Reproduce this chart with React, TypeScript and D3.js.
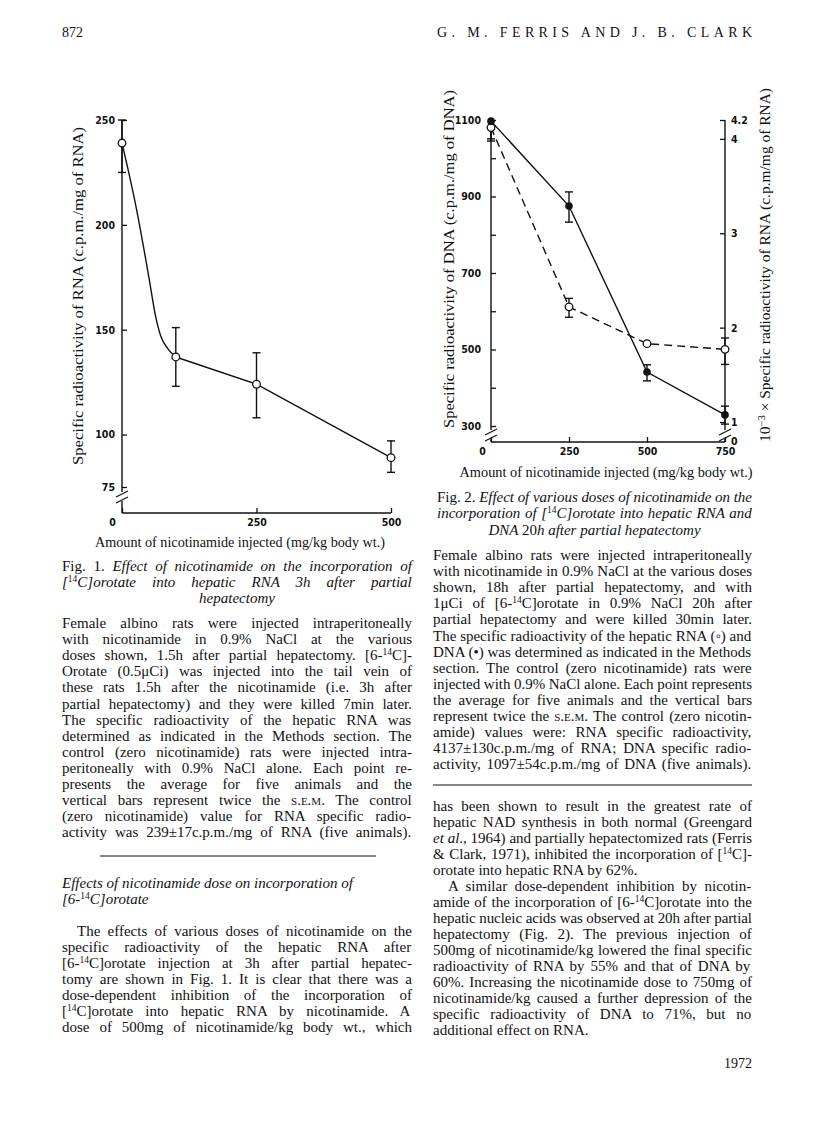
import { useEffect, useRef } from 'react'
import * as d3 from 'd3'

// ---- Fig. 1: RNA specific radioactivity vs nicotinamide dose ----
const fig1Dose = [0, 100, 250, 500]
const fig1Rna = [239, 137, 124, 89]
const fig1Low = [225, 123, 108, 82]
const fig1High = [250, 151, 139, 97]
// the hand-drawn curve between 0 and 100 mg/kg
const fig1CurveDose = [0, 25, 50, 62, 72, 85, 100]
const fig1CurveRna = [239, 210, 175, 157, 147, 141, 137]
const fig1YTicks = [75, 100, 150, 200, 250]
const fig1XTicks = [0, 250, 500]

// ---- Fig. 2: DNA (filled, left axis) and RNA (open, right axis) ----
const fig2Dose = [0, 250, 500, 750]
const fig2Dna = [1097, 875, 441, 329]
const fig2DnaLow = [1045, 833, 418, 305]
const fig2DnaHigh = [1097, 912, 460, 352]
const fig2Rna = [4.12, 2.22, 1.83, 1.77]
const fig2RnaLow = [4.0, 2.11, 1.83, 1.61]
const fig2RnaHigh = [4.12, 2.31, 1.83, 1.89]
const fig2DnaTicks = [300, 400, 500, 600, 700, 800, 900, 1000, 1100]
const fig2DnaLabels = [300, 500, 700, 900, 1100]
const fig2RnaTicks = [1, 2, 3, 4, 4.2]
const fig2XTicks = [0, 250, 500, 750]

// ---- page text ----
const fig1Caption = [
  'Fig. 1. <i>Effect of nicotinamide on the incorporation of</i>',
  '<i>[</i><sup>14</sup><i>C]orotate into hepatic RNA 3h after partial</i>',
  '<i>hepatectomy</i>',
]
const fig1Legend = [
  'Female albino rats were injected intraperitoneally',
  'with nicotinamide in 0.9% NaCl at the various',
  'doses shown, 1.5h after partial hepatectomy. [6-<sup>14</sup>C]-',
  'Orotate (0.5\u03bcCi) was injected into the tail vein of',
  'these rats 1.5h after the nicotinamide (i.e. 3h after',
  'partial hepatectomy) and they were killed 7min later.',
  'The specific radioactivity of the hepatic RNA was',
  'determined as indicated in the Methods section. The',
  'control (zero nicotinamide) rats were injected intra-',
  'peritoneally with 0.9% NaCl alone. Each point re-',
  'presents the average for five animals and the',
  'vertical bars represent twice the <sc>s.e.m.</sc> The control',
  '(zero nicotinamide) value for RNA specific radio-',
  'activity was 239\u00b117c.p.m./mg of RNA (five animals).',
]
const leftHeading = [
  '<i>Effects of nicotinamide dose on incorporation of</i>',
  '<i>[6-</i><sup>14</sup><i>C]orotate</i>',
]
const leftBody = [
  'The effects of various doses of nicotinamide on the',
  'specific radioactivity of the hepatic RNA after',
  '[6-<sup>14</sup>C]orotate injection at 3h after partial hepatec-',
  'tomy are shown in Fig. 1. It is clear that there was a',
  'dose-dependent inhibition of the incorporation of',
  '[<sup>14</sup>C]orotate into hepatic RNA by nicotinamide. A',
  'dose of 500mg of nicotinamide/kg body wt., which',
]
const fig2Caption = [
  'Fig. 2. <i>Effect of various doses of nicotinamide on the</i>',
  '<i>incorporation of [</i><sup>14</sup><i>C]orotate into hepatic RNA and</i>',
  '<i>DNA </i>20<i>h after partial hepatectomy</i>',
]
const fig2Legend = [
  'Female albino rats were injected intraperitoneally',
  'with nicotinamide in 0.9% NaCl at the various doses',
  'shown, 18h after partial hepatectomy, and with',
  '1\u03bcCi of [6-<sup>14</sup>C]orotate in 0.9% NaCl 20h after',
  'partial hepatectomy and were killed 30min later.',
  'The specific radioactivity of the hepatic RNA (\u25e6) and',
  'DNA (\u2022) was determined as indicated in the Methods',
  'section. The control (zero nicotinamide) rats were',
  'injected with 0.9% NaCl alone. Each point represents',
  'the average for five animals and the vertical bars',
  'represent twice the <sc>s.e.m.</sc> The control (zero nicotin-',
  'amide) values were: RNA specific radioactivity,',
  '4137\u00b1130c.p.m./mg of RNA; DNA specific radio-',
  'activity, 1097\u00b154c.p.m./mg of DNA (five animals).',
]
const rightBody = [
  'has been shown to result in the greatest rate of',
  'hepatic NAD synthesis in both normal (Greengard',
  '<i>et al</i>., 1964) and partially hepatectomized rats (Ferris',
  '& Clark, 1971), inhibited the incorporation of [<sup>14</sup>C]-',
  'orotate into hepatic RNA by 62%.',
  'A similar dose-dependent inhibition by nicotin-',
  'amide of the incorporation of [6-<sup>14</sup>C]orotate into the',
  'hepatic nucleic acids was observed at 20h after partial',
  'hepatectomy (Fig. 2). The previous injection of',
  '500mg of nicotinamide/kg lowered the final specific',
  'radioactivity of RNA by 55% and that of DNA by',
  '60%. Increasing the nicotinamide dose to 750mg of',
  'nicotinamide/kg caused a further depression of the',
  'specific radioactivity of DNA to 71%, but no',
  'additional effect on RNA.',
]

const serifName = '"Liberation Serif"'
const serif = '"Liberation Serif", "DejaVu Serif", serif'
const tickFont = '"Liberation Sans Narrow", "DejaVu Sans Condensed", sans-serif'
const bodySize = 15
const supSize = 9.5

type Seg = { t: string; italic: boolean; sup: boolean; sc: boolean }

function segments(markup: string): Seg[] {
  const parts = markup.split(/(<\/?(?:i|sup|sc)>)/)
  let italic = false, sup = false, sc = false
  const out: Seg[] = []
  parts.forEach(p => {
    if (p === '<i>') italic = true
    else if (p === '</i>') italic = false
    else if (p === '<sup>') sup = true
    else if (p === '</sup>') sup = false
    else if (p === '<sc>') sc = true
    else if (p === '</sc>') sc = false
    else if (p) out.push({ t: p, italic, sup, sc })
  })
  return out
}

let ctx: CanvasRenderingContext2D | null = null
function measure(segs: Seg[], size: number) {
  if (!ctx) ctx = document.createElement('canvas').getContext('2d')
  if (!ctx) return 0
  let w = 0
  segs.forEach(s => {
    ctx!.font = `${s.italic ? 'italic ' : ''}${s.sc ? 'small-caps ' : ''}${s.sup ? supSize : size}px ${serifName}`
    w += ctx!.measureText(s.t).width
  })
  return w
}

function renderSegs(segs: Seg[]) {
  let shifted = false
  return segs.map((s, k) => {
    let dy: number | undefined
    if (s.sup && !shifted) { dy = -5; shifted = true }
    if (!s.sup && shifted) { dy = 5; shifted = false }
    return (
      <tspan key={k} dy={dy}
        fontStyle={s.italic ? 'italic' : undefined}
        fontSize={s.sup ? supSize : undefined}
        fontVariant={s.sc ? 'small-caps' : undefined}>{s.t}</tspan>
    )
  })
}

type BlockOpts = { x: number; w: number; y0: number; step: number; indent?: number[]; ragged?: number[]; center?: number[] }

function Block({ lines, o }: { lines: string[]; o: BlockOpts }) {
  return (
    <g>
      {lines.map((l, i) => {
        const y = o.y0 + i * o.step
        const segs = segments(l)
        if (o.center && o.center.includes(i)) {
          return <text key={i} x={o.x + o.w / 2} y={y} textAnchor="middle">{renderSegs(segs)}</text>
        }
        const ind = o.indent && o.indent.includes(i) ? 15 : 0
        const just = !(o.ragged && o.ragged.includes(i))
        const target = o.w - ind
        if (!just) return <text key={i} x={o.x + ind} y={y}>{renderSegs(segs)}</text>
        const natural = measure(segs, bodySize)
        const spaces = segs.filter(s => !s.sup).reduce((n, s) => n + (s.t.match(/ /g) || []).length, 0)
        const extra = target - natural
        if (extra >= 0 && spaces > 0) {
          return (
            <text key={i} x={o.x + ind} y={y} style={{ wordSpacing: `${extra / spaces}px` }}>{renderSegs(segs)}</text>
          )
        }
        return (
          <text key={i} x={o.x + ind} y={y} textLength={target} lengthAdjust="spacing">{renderSegs(segs)}</text>
        )
      })}
    </g>
  )
}

function drawErrorBars(g: any, xs: number[], vals: number[], lows: number[], highs: number[], x: any, y: any) {
  xs.forEach((d, i) => {
    const cx = x(d)
    if (lows[i] === highs[i]) return
    g.append('line').attr('x1', cx).attr('x2', cx).attr('y1', y(lows[i])).attr('y2', y(highs[i]))
      .attr('stroke', '#111').attr('stroke-width', 1.4)
    ;[lows[i], highs[i]].forEach(v => {
      if (v === vals[i]) return
      g.append('line').attr('x1', cx - 4).attr('x2', cx + 4).attr('y1', y(v)).attr('y2', y(v))
        .attr('stroke', '#111').attr('stroke-width', 1.4)
    })
  })
}

function styleAxis(a: any) {
  a.select('.domain').remove()
  a.attr('font-family', tickFont).attr('font-size', 10.5).attr('font-weight', 'bold')
  a.selectAll('line').attr('stroke', '#111').attr('stroke-width', 1.3)
  a.selectAll('text').attr('fill', '#111')
}

function axisBreak(g: any, x: number, yb: number) {
  ;[0, 6].forEach(off => {
    g.append('line').attr('x1', x - 6).attr('x2', x + 6)
      .attr('y1', yb + off + 3).attr('y2', yb + off - 3)
      .attr('stroke', '#111').attr('stroke-width', 1.2)
  })
}

export default function App() {
  const svgRef = useRef<SVGSVGElement>(null)

  useEffect(() => {
    if (!svgRef.current) return
    const svg = d3.select(svgRef.current)
    svg.selectAll('g.chart').remove()

    const axisLine = (g: any, xa: number, ya: number, xb: number, yb: number) =>
      g.append('line').attr('x1', xa).attr('y1', ya).attr('x2', xb).attr('y2', yb)
        .attr('stroke', '#111').attr('stroke-width', 1.4)

    // ---------- Fig. 1 ----------
    const g1 = svg.append('g').attr('class', 'chart')
    const x1 = d3.scaleLinear().domain([0, 500]).range([122, 391])
    const y1 = d3.scaleLinear().domain([75, 250]).range([487, 120])
    const base1 = 513

    const ay1 = g1.append('g').attr('transform', `translate(${x1(0)},0)`)
      .call(d3.axisLeft(y1).tickValues(fig1YTicks).tickSize(-5).tickPadding(7).tickFormat(d3.format('d')))
    styleAxis(ay1)
    const ax1 = g1.append('g').attr('transform', `translate(0,${base1})`)
      .call(d3.axisBottom(x1).tickValues(fig1XTicks).tickSize(-5).tickPadding(6).tickFormat(d3.format('d')))
    styleAxis(ax1)
    ax1.selectAll('text').filter((d: any) => d === 0).attr('dx', -10)

    axisLine(g1, x1(0), y1(250), x1(0), 492)
    axisLine(g1, x1(0), 501, x1(0), base1)
    axisLine(g1, x1(0), base1, x1(500), base1)
    axisBreak(g1, x1(0), 494)

    const curve1 = d3.line<number>().x(d => x1(d)).y((_, i) => y1(fig1CurveRna[i])).curve(d3.curveMonotoneX)
    g1.append('path').attr('d', curve1(fig1CurveDose)).attr('fill', 'none').attr('stroke', '#111').attr('stroke-width', 1.4)
    const straight1 = d3.line<number>().x(d => x1(d)).y((_, i) => y1(fig1Rna.slice(1)[i]))
    g1.append('path').attr('d', straight1(fig1Dose.slice(1))).attr('fill', 'none').attr('stroke', '#111').attr('stroke-width', 1.4)

    drawErrorBars(g1, fig1Dose, fig1Rna, fig1Low, fig1High, x1, y1)
    g1.selectAll('circle.p').data(fig1Dose).join('circle')
      .attr('cx', d => x1(d)).attr('cy', (_, i) => y1(fig1Rna[i])).attr('r', 3.8)
      .attr('fill', '#fff').attr('stroke', '#111').attr('stroke-width', 1.3)

    // ---------- Fig. 2 ----------
    const g2 = svg.append('g').attr('class', 'chart')
    const x2 = d3.scaleLinear().domain([0, 750]).range([491, 725])
    const y2 = d3.scaleLinear().domain([300, 1100]).range([426, 120])
    const y2r = d3.scaleLinear().domain([1, 4.2]).range([422, 120])
    const base2 = 442

    const ay2 = g2.append('g').attr('transform', `translate(${x2(0)},0)`)
      .call(d3.axisLeft(y2).tickValues(fig2DnaTicks).tickSize(-5).tickPadding(10)
        .tickFormat((d: any) => (fig2DnaLabels.includes(d) ? String(d) : '')))
    styleAxis(ay2)
    const ar2 = g2.append('g').attr('transform', `translate(${x2(750)},0)`)
      .call(d3.axisRight(y2r).tickValues(fig2RnaTicks).tickSize(-5).tickPadding(6).tickFormat((d: any) => String(d)))
    styleAxis(ar2)
    ar2.append('text').attr('x', 6).attr('y', base2).attr('dy', '0.32em').attr('fill', '#111').text('0')
    const ax2 = g2.append('g').attr('transform', `translate(0,${base2})`)
      .call(d3.axisBottom(x2).tickValues(fig2XTicks).tickSize(-5).tickPadding(6).tickFormat(d3.format('d')))
    styleAxis(ax2)
    ax2.selectAll('text').filter((d: any) => d === 0).attr('dx', -9)

    axisLine(g2, x2(0), y2(1100), x2(0), 430)
    axisLine(g2, x2(0), 439, x2(0), base2)
    axisBreak(g2, x2(0), 432)
    axisLine(g2, x2(750), y2r(4.2), x2(750), 430)
    axisLine(g2, x2(750), 439, x2(750), base2)
    axisBreak(g2, x2(750), 432)
    axisLine(g2, x2(0), base2, x2(750), base2)

    const dnaLine = d3.line<number>().x(d => x2(d)).y((_, i) => y2(fig2Dna[i]))
    g2.append('path').attr('d', dnaLine(fig2Dose)).attr('fill', 'none').attr('stroke', '#111').attr('stroke-width', 1.4)
    const rnaLine = d3.line<number>().x(d => x2(d)).y((_, i) => y2r(fig2Rna[i]))
    g2.append('path').attr('d', rnaLine(fig2Dose)).attr('fill', 'none').attr('stroke', '#111')
      .attr('stroke-width', 1.4).attr('stroke-dasharray', '8,5')

    drawErrorBars(g2, fig2Dose, fig2Dna, fig2DnaLow, fig2DnaHigh, x2, y2)
    drawErrorBars(g2, fig2Dose, fig2Rna, fig2RnaLow, fig2RnaHigh, x2, y2r)

    g2.selectAll('circle.rna').data(fig2Dose).join('circle').attr('class', 'rna')
      .attr('cx', d => x2(d)).attr('cy', (_, i) => y2r(fig2Rna[i])).attr('r', 3.8)
      .attr('fill', '#fff').attr('stroke', '#111').attr('stroke-width', 1.3)
    g2.selectAll('circle.dna').data(fig2Dose).join('circle').attr('class', 'dna')
      .attr('cx', d => x2(d)).attr('cy', (_, i) => y2(fig2Dna[i])).attr('r', 3.8)
      .attr('fill', '#111')
  }, [])

  return (
    <svg ref={svgRef} width={816} height={1136}
      style={{ position: 'absolute', left: 0, top: 0, background: '#fff' }}
      fontFamily={serif} fontSize={bodySize} fill="#111">
      {/* running head */}
      <text x={62} y={37} fontSize={14}>872</text>
      <text x={437} y={37} fontSize={14} textLength={315} lengthAdjust="spacing">G. M. FERRIS AND J. B. CLARK</text>

      {/* axis titles */}
      <text transform="translate(83,296) rotate(-90)" textAnchor="middle" fontSize={14.5} textLength={338} lengthAdjust="spacingAndGlyphs">
        Specific radioactivity of RNA (c.p.m./mg of RNA)
      </text>
      <text x={240} y={547} textAnchor="middle" fontSize={14} textLength={290} lengthAdjust="spacingAndGlyphs">
        Amount of nicotinamide injected (mg/kg body wt.)
      </text>
      <text transform="translate(454,259) rotate(-90)" textAnchor="middle" fontSize={14.5} textLength={338} lengthAdjust="spacingAndGlyphs">
        Specific radioactivity of DNA (c.p.m./mg of DNA)
      </text>
      <text transform="translate(770,265) rotate(-90)" textAnchor="middle" fontSize={14.5} textLength={354} lengthAdjust="spacingAndGlyphs">
        10<tspan dy={-5} fontSize={10}>{'\u22123'}</tspan><tspan dy={5}>{' \u00d7 Specific radioactivity of RNA (c.p.m/mg of RNA)'}</tspan>
      </text>
      <text x={606} y={477} textAnchor="middle" fontSize={14} textLength={293} lengthAdjust="spacingAndGlyphs">
        Amount of nicotinamide injected (mg/kg body wt.)
      </text>

      {/* left column */}
      <Block lines={fig1Caption} o={{ x: 62, w: 350, y0: 571, step: 16.2, center: [2] }} />
      <Block lines={fig1Legend} o={{ x: 62, w: 350, y0: 628, step: 16.1 }} />
      <line x1={100} x2={376} y1={856} y2={856} stroke="#111" strokeWidth={1} />
      <Block lines={leftHeading} o={{ x: 62, w: 350, y0: 888, step: 16, ragged: [0, 1] }} />
      <Block lines={leftBody} o={{ x: 62, w: 350, y0: 936, step: 16, indent: [0] }} />

      {/* right column */}
      <Block lines={fig2Caption} o={{ x: 437, w: 315, y0: 502, step: 16.3, center: [2] }} />
      <Block lines={fig2Legend} o={{ x: 433, w: 319, y0: 560, step: 16.1 }} />
      <line x1={433} x2={752} y1={785} y2={785} stroke="#111" strokeWidth={1} />
      <Block lines={rightBody} o={{ x: 433, w: 319, y0: 811, step: 16, indent: [5], ragged: [4, 14] }} />

      <text x={752} y={1068} textAnchor="end" fontSize={14}>1972</text>
    </svg>
  )
}
